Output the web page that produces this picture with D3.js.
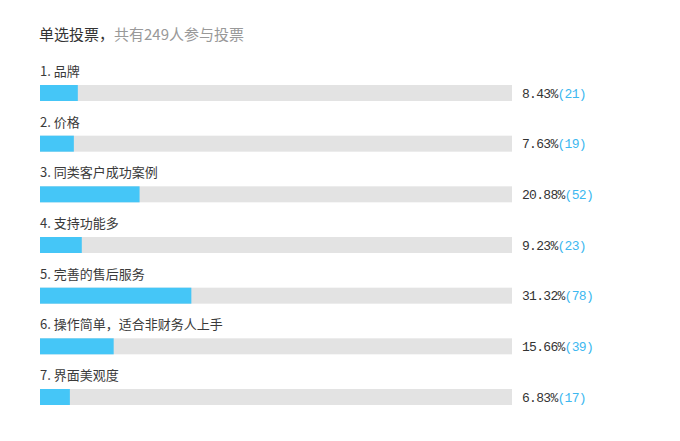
<!DOCTYPE html>
<html>
<head>
<meta charset="utf-8">
<script src="https://cdn.jsdelivr.net/npm/d3@7"></script>
<style>
  html, body { margin: 0; padding: 0; background: #fff; }
  svg { display: block; }
</style>
</head>
<body>
<svg id="chart" width="680" height="441"></svg>
<script>
// ---- data ----
const titleMain = "单选投票，";
const titleSub = "共有249人参与投票";
const categories = ["品牌", "价格", "同类客户成功案例", "支持功能多", "完善的售后服务", "操作简单，适合非财务人上手", "界面美观度"];
const percents = [8.43, 7.63, 20.88, 9.23, 31.32, 15.66, 6.83];
const counts = [21, 19, 52, 23, 78, 39, 17];

// ---- layout ----
const svg = d3.select("#chart");
const trackX = 40, trackW = 472, barH = 16;

svg.append("rect").attr("width", 680).attr("height", 441).attr("fill", "#fff");

const title = svg.append("text")
  .attr("x", 39).attr("y", 33)
  .attr("dominant-baseline", "central")
  .style("font-family", "'Noto Sans CJK SC', sans-serif")
  .style("font-size", "15px");
title.append("tspan").attr("fill", "#333").text(titleMain);
title.append("tspan").attr("fill", "#999").text(titleSub);

const y = d3.scalePoint().domain(categories).range([85, 389]);
const w = d3.scaleLinear().domain([0, 100]).range([-4, 492]);

const rows = svg.selectAll("g.row")
  .data(categories.map((c, i) => ({ c, i, p: percents[i], n: counts[i] })))
  .join("g")
  .attr("class", "row")
  .attr("transform", d => `translate(0,${y(d.c)})`);

const lab = rows.append("text")
  .attr("x", trackX).attr("y", -15)
  .attr("dominant-baseline", "central")
  .attr("fill", "#3a3a3a")
  .style("font-family", "'Noto Sans CJK SC', sans-serif")
  .style("font-size", "13px");
lab.append("tspan").text(d => (d.i + 1) + ".");
lab.append("tspan").attr("dx", 3).text(d => d.c);

rows.append("rect")
  .attr("x", trackX).attr("y", 0)
  .attr("width", trackW).attr("height", barH)
  .attr("fill", "#e3e3e3");

rows.append("rect")
  .attr("x", trackX).attr("y", 0)
  .attr("width", d => w(d.p)).attr("height", barH)
  .attr("fill", "#45c6f7");

const val = rows.append("text")
  .attr("x", 522).attr("y", barH / 2 + 0.5)
  .attr("dominant-baseline", "central")
  .style("font-family", "'Liberation Mono', monospace")
  .style("font-size", "13px")
  .style("letter-spacing", "-0.7px");
val.append("tspan").attr("fill", "#333").text(d => d.p.toFixed(2) + "%");
val.append("tspan").attr("fill", "#3db8f0").text(d => "(" + d.n + ")");
</script>
</body>
</html>
